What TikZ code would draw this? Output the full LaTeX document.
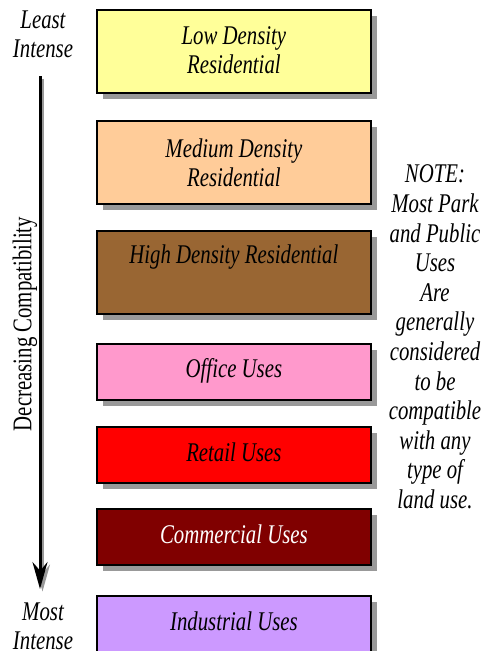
\documentclass[tikz,border=0pt]{standalone}
\usepackage{fontspec}
\setmainfont{Liberation Serif}[FakeStretch=0.77]
\usetikzlibrary{shadows,arrows.meta}
\definecolor{lowres}{HTML}{FFFF99}
\definecolor{medres}{HTML}{FFCC99}
\definecolor{highres}{HTML}{996633}
\definecolor{office}{HTML}{FF99CC}
\definecolor{retail}{HTML}{FF0000}
\definecolor{commercial}{HTML}{800000}
\definecolor{industrial}{HTML}{CC99FF}
\definecolor{shadowgray}{HTML}{999999}
\begin{document}
\begin{tikzpicture}[x=1pt,y=-1pt,
  usebox/.style={draw=black, line width=1.8pt, minimum width=274pt,
    inner sep=0pt, anchor=north west,
    drop shadow={shadow xshift=6pt, shadow yshift=-6pt, fill=shadowgray, opacity=1}},
  tallbox/.style={usebox, minimum height=83pt},
  shortbox/.style={usebox, minimum height=56pt},
  label/.style={font=\fontsize{27}{29}\selectfont\itshape, align=center, inner sep=0pt},
  note/.style={font=\fontsize{27}{29.6}\selectfont\itshape, align=center, inner sep=0pt}]
\useasboundingbox (0,0) rectangle (483,651);

% land-use boxes, least to most intense
\node[tallbox, fill=lowres]      (low)  at (96,9)   {};
\node[tallbox, fill=medres]      (med)  at (96,120) {};
\node[tallbox, fill=highres]     (high) at (96,230) {};
\node[shortbox, fill=office]     (off)  at (96,343) {};
\node[shortbox, fill=retail]     (ret)  at (96,426) {};
\node[shortbox, fill=commercial] (com)  at (96,508) {};
\node[shortbox, fill=industrial] (ind)  at (96,595) {};

\node[label] (lowt)  at ([yshift=1pt]low.center)  {Low Density\\Residential};
\node[label] (medt)  at (med.center)  {Medium Density\\Residential};
\node[label] (hight) at ([yshift=15pt]high.center) {High Density Residential};
\node[label] (offt)  at ([yshift=1pt]off.center)  {Office Uses};
\node[label] (rett)  at ([yshift=3pt]ret.center)  {Retail Uses};
\node[label, text=white] (comt) at ([yshift=3pt]com.center) {Commercial Uses};
\node[label] (indt)  at ([yshift=3pt]ind.center)  {Industrial Uses};

% intensity scale
\node[label] (least) at (43,34)  {Least\\Intense};
\node[label] (most)  at (43,626) {Most\\Intense};
\coordinate (atop) at (40,76);
\coordinate (atip) at (40,589);
\coordinate (stop) at (42.5,78.5);
\coordinate (stip) at (42.5,591.5);
\draw[shadowgray, line width=2.5pt, -{Stealth[length=27pt, width=15pt, inset=9pt]}] (stop) -- (stip);
\draw[black, line width=3pt, -{Stealth[length=27pt, width=15pt, inset=9pt]}] (atop) -- (atip);
\node[font=\fontsize{27}{29}\selectfont, rotate=90, inner sep=0pt] (compat) at (25,324) {Decreasing Compatibility};

% side note
\node[note] (notet) at (435,337) {NOTE:\\Most Park\\and Public\\Uses\\Are\\generally\\considered\\to be\\compatible\\with any\\type of\\land use.};
\end{tikzpicture}
\end{document}
